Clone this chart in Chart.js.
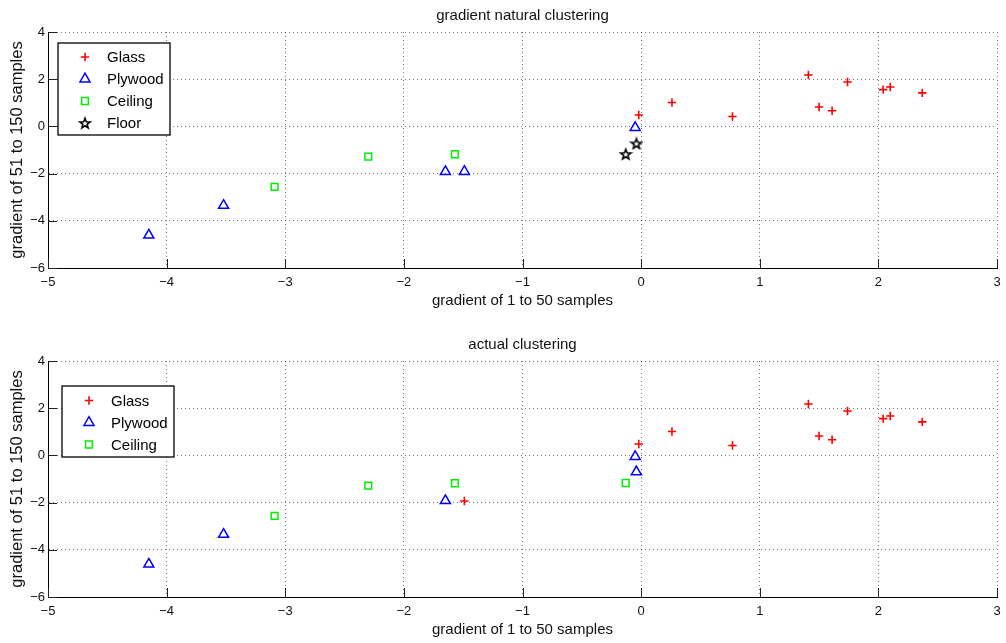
<!DOCTYPE html>
<html>
<head>
<meta charset="utf-8">
<script src="https://cdn.jsdelivr.net/npm/chart.js@4.4.1/dist/chart.umd.min.js"></script>
<style>
html, body { margin: 0; padding: 0; background: #fff; }
#wrap { position: relative; width: 1006px; height: 643px; overflow: hidden; }
#c1 { position: absolute; left: 0; top: 0; }
#c2 { position: absolute; left: 0; top: 329px; }
</style>
</head>
<body>
<div id="wrap">
  <canvas id="c1" width="1006" height="329"></canvas>
  <canvas id="c2" width="1006" height="329"></canvas>
</div>
<script>
// tick labels
const xTicks = [-5, -4, -3, -2, -1, 0, 1, 2, 3];
const yTicks = [-6, -4, -2, 0, 2, 4];

// top: gradient natural clustering
const natGlassX = [-0.02, 0.26, 0.77, 1.41, 1.50, 1.61, 1.74, 2.04, 2.10, 2.37];
const natGlassY = [0.48, 1.01, 0.42, 2.18, 0.82, 0.66, 1.88, 1.56, 1.67, 1.42];
const natPlywoodX = [-4.15, -3.52, -1.65, -1.49, -0.05];
const natPlywoodY = [-4.61, -3.35, -1.92, -1.91, -0.05];
const natCeilingX = [-3.09, -2.30, -1.57];
const natCeilingY = [-2.56, -1.28, -1.18];
const natFloorX = [-0.13, -0.04];
const natFloorY = [-1.17, -0.72];

// bottom: actual clustering
const actGlassX = [-1.49, -0.02, 0.26, 0.77, 1.41, 1.50, 1.61, 1.74, 2.04, 2.10, 2.37];
const actGlassY = [-1.93, 0.48, 1.01, 0.42, 2.18, 0.82, 0.66, 1.88, 1.56, 1.67, 1.42];
const actPlywoodX = [-4.15, -3.52, -1.65, -0.05, -0.04];
const actPlywoodY = [-4.61, -3.35, -1.92, -0.05, -0.70];
const actCeilingX = [-3.09, -2.30, -1.57, -0.13];
const actCeilingY = [-2.56, -1.28, -1.18, -1.17];

Chart.defaults.font.family = '"Liberation Sans", Arial, Helvetica, sans-serif';
Chart.defaults.color = '#111';

function fmt(v) {
  return String(v).replace('-', '\u2212');
}

// pentagram marker, matlab style
function makeStar(size, r, color) {
  const c = document.createElement('canvas');
  c.width = size; c.height = size;
  const g = c.getContext('2d');
  g.strokeStyle = color;
  g.lineWidth = 1.6;
  g.lineJoin = 'miter';
  g.beginPath();
  for (let i = 0; i < 10; i++) {
    const rad = i % 2 ? r * 0.42 : r;
    const a = -Math.PI / 2 + i * Math.PI / 5;
    const px = size / 2 + rad * Math.cos(a), py = size / 2 + 0.6 + rad * Math.sin(a);
    if (i) g.lineTo(px, py); else g.moveTo(px, py);
  }
  g.closePath();
  g.stroke();
  return c;
}
const starImg = makeStar(14, 5.3, '#000');

const glassStyle = { pointStyle: 'cross', pointRadius: 4.2, borderColor: '#ff0000', backgroundColor: 'rgba(0,0,0,0)', pointBorderWidth: 1.6 };
const plywoodStyle = { pointStyle: 'triangle', pointRadius: 5.8, borderColor: '#0000ff', backgroundColor: 'rgba(0,0,0,0)', pointBorderWidth: 1.5 };
const ceilingStyle = { pointStyle: 'rect', pointRadius: 4.8, borderColor: '#00ee00', backgroundColor: 'rgba(0,0,0,0)', pointBorderWidth: 1.5 };
const floorStyle = { pointStyle: starImg, pointRadius: 5, borderColor: '#000', backgroundColor: 'rgba(0,0,0,0)', pointBorderWidth: 1.5 };

function series(label, xs, ys, style) {
  return Object.assign({ label: label, data: xs.map((x, i) => ({ x: x, y: ys[i] })) }, style);
}

const boxLegend = {
  id: 'boxLegend',
  afterDraw(chart, args, opts) {
    const ctx = chart.ctx, a = chart.chartArea;
    const x0 = a.left + opts.dx, y0 = a.top + opts.dy;
    ctx.save();
    ctx.fillStyle = '#fff';
    ctx.fillRect(x0, y0, opts.w, opts.h);
    ctx.strokeStyle = '#000';
    ctx.lineWidth = 1.3;
    ctx.strokeRect(x0, y0, opts.w, opts.h);
    ctx.font = '15px "Liberation Sans", Arial, sans-serif';
    ctx.textBaseline = 'middle';
    chart.data.datasets.forEach((ds, i) => {
      const y = y0 + opts.first + i * opts.step;
      ctx.strokeStyle = ds.borderColor;
      ctx.fillStyle = ds.backgroundColor;
      ctx.lineWidth = ds.pointBorderWidth;
      Chart.helpers.drawPoint(ctx, { pointStyle: ds.pointStyle, radius: ds.pointRadius, borderWidth: ds.pointBorderWidth, rotation: 0 }, x0 + opts.mx, y);
      ctx.fillStyle = '#000';
      ctx.fillText(ds.label, x0 + opts.tx, y + 1);
    });
    ctx.restore();
  }
};

// ticks point inward like matlab
const innerTicks = {
  id: 'innerTicks',
  afterDatasetsDraw(chart) {
    const { ctx, chartArea: a, scales } = chart;
    ctx.save();
    ctx.strokeStyle = '#222';
    ctx.lineWidth = 1;
    ctx.beginPath();
    scales.x.ticks.forEach(t => {
      const px = Math.round(scales.x.getPixelForValue(t.value)) + 0.5;
      ctx.moveTo(px, a.bottom);
      ctx.lineTo(px, a.bottom - 9);
    });
    scales.y.ticks.forEach(t => {
      const py = Math.round(scales.y.getPixelForValue(t.value)) + 0.5;
      ctx.moveTo(a.left, py);
      ctx.lineTo(a.left + 9, py);
    });
    ctx.stroke();
    ctx.restore();
  }
};

function makeOptions(title, legendPos) {
  return {
    responsive: false,
    animation: false,
    events: [],
    layout: { padding: { left: 0, right: 9, top: 0, bottom: 0 } },
    scales: {
      x: {
        type: 'linear', min: -5, max: 3,
        afterBuildTicks: s => { s.ticks = xTicks.map(v => ({ value: v })); },
        afterFit: s => { s.height = 61; s.paddingLeft = 0; s.paddingRight = 0; },
        grid: { color: 'rgba(0,0,0,0.55)', lineWidth: 1, drawTicks: false },
        border: { display: true, color: '#000', width: 1, dash: [1, 3] },
        ticks: { padding: 7, font: { size: 13 }, maxRotation: 0, autoSkip: false, callback: v => fmt(v) },
        title: { display: true, text: 'gradient of 1 to 50 samples', font: { size: 15 }, padding: { top: 0, bottom: 19 } }
      },
      // carries the plot title, centred over the axes
      top: {
        type: 'linear', position: 'top', min: 0, max: 1,
        afterFit: s => { s.height = 32; s.paddingLeft = 0; s.paddingRight = 0; },
        grid: { display: false, drawTicks: false },
        border: { display: false },
        ticks: { display: false },
        title: { display: true, text: title, font: { size: 15 }, padding: { top: 7, bottom: 0 } }
      },
      y: {
        type: 'linear', min: -6, max: 4,
        afterBuildTicks: s => { s.ticks = yTicks.map(v => ({ value: v })); },
        afterFit: s => { s.width = 48; },
        grid: { color: 'rgba(0,0,0,0.55)', lineWidth: 1, drawTicks: false },
        border: { display: true, color: '#000', width: 1, dash: [1, 3] },
        ticks: { padding: 3, font: { size: 13 }, autoSkip: false, callback: v => fmt(v) },
        title: { display: true, text: 'gradient of 51 to 150 samples', font: { size: 16.5 }, padding: { top: 8, bottom: 0 } }
      }
    },
    plugins: {
      legend: { display: false },
      tooltip: { enabled: false },
      title: { display: false },
      boxLegend: legendPos
    }
  };
}

new Chart(document.getElementById('c1'), {
  type: 'scatter',
  data: {
    datasets: [
      series('Glass', natGlassX, natGlassY, glassStyle),
      series('Plywood', natPlywoodX, natPlywoodY, plywoodStyle),
      series('Ceiling', natCeilingX, natCeilingY, ceilingStyle),
      series('Floor', natFloorX, natFloorY, floorStyle)
    ]
  },
  options: makeOptions('gradient natural clustering', { dx: 10, dy: 11, w: 112, h: 92, first: 14, step: 22, mx: 27, tx: 49 }),
  plugins: [innerTicks, boxLegend]
});

new Chart(document.getElementById('c2'), {
  type: 'scatter',
  data: {
    datasets: [
      series('Glass', actGlassX, actGlassY, glassStyle),
      series('Plywood', actPlywoodX, actPlywoodY, plywoodStyle),
      series('Ceiling', actCeilingX, actCeilingY, ceilingStyle)
    ]
  },
  options: makeOptions('actual clustering', { dx: 14, dy: 25, w: 112, h: 71, first: 14.5, step: 22, mx: 27, tx: 49 }),
  plugins: [innerTicks, boxLegend]
});
</script>
</body>
</html>
